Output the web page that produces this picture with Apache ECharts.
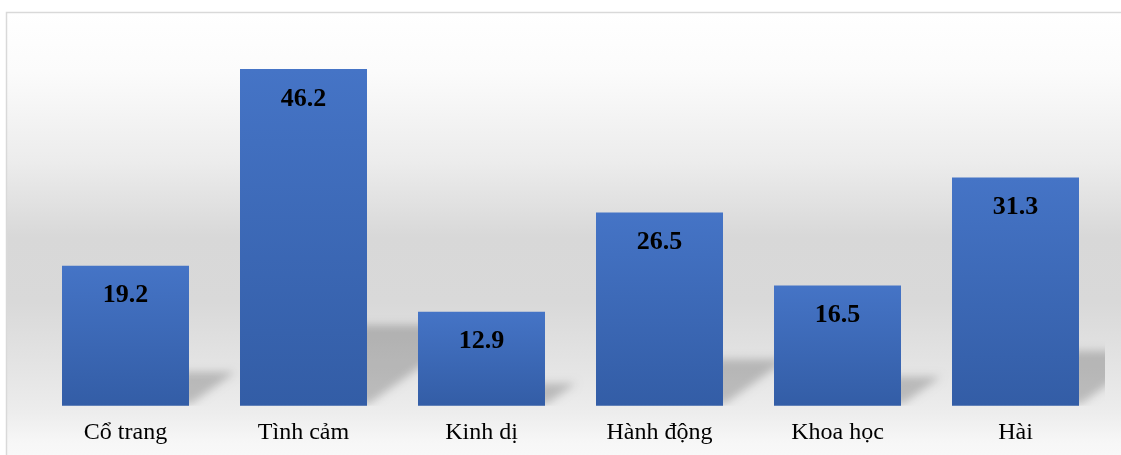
<!DOCTYPE html>
<html>
<head>
<meta charset="utf-8">
<script src="https://cdn.jsdelivr.net/npm/echarts@6/dist/echarts.min.js"></script>
<style>
html,body{margin:0;padding:0;background:#fff;}
#c{width:1121px;height:455px;}
</style>
</head>
<body>
<div id="c"></div>
<script>
const categories = ['Cổ trang', 'Tình cảm', 'Kinh dị', 'Hành động', 'Khoa học', 'Hài'];
const values = [19.2, 46.2, 12.9, 26.5, 16.5, 31.3];

const FONT = "'Liberation Serif', 'Times New Roman', serif";
const chart = echarts.init(document.getElementById('c'), null, {renderer: 'canvas'});
const OFF = 3000;

const option = {
  animation: false,
  graphic: [{
    type: 'rect',
    z: -10,
    silent: true,
    shape: {x: 6.5, y: 12.5, width: 1200, height: 500},
    style: {
      fill: new echarts.graphic.LinearGradient(0, 0, 0, 1, [
        {offset: 0, color: '#ffffff'},
        {offset: 0.12, color: '#fbfbfb'},
        {offset: 0.3, color: '#ececec'},
        {offset: 0.45, color: '#d8d8d8'},
        {offset: 0.58, color: '#d9d9d9'},
        {offset: 0.72, color: '#e5e5e5'},
        {offset: 0.8, color: '#ededed'},
        {offset: 0.86, color: '#f7f7f7'},
        {offset: 1, color: '#fefefe'}
      ]),
      stroke: '#d9d9d9',
      lineWidth: 1.5
    }
  }],
  grid: {left: 36.5, right: 16.5, top: 41.3, bottom: 49.3, containLabel: false},
  xAxis: {
    type: 'category',
    data: categories,
    axisLine: {show: false},
    axisTick: {show: false},
    axisLabel: {
      color: '#000',
      fontFamily: FONT,
      fontSize: 24,
      lineHeight: 24,
      margin: 15
    }
  },
  yAxis: {
    type: 'value',
    min: 0,
    max: 50,
    axisLine: {show: false},
    axisTick: {show: false},
    axisLabel: {show: false},
    splitLine: {show: false}
  },
  series: [
    {
      type: 'custom',
      z: 1,
      clip: true,
      silent: true,
      data: values.map((v, i) => [i, v]),
      renderItem: function (params, api) {
        const i = api.value(0), v = api.value(1);
        const top = api.coord([i, v]);
        const base = api.coord([i, 0]);
        const bw = 127;
        const right = top[0] + bw / 2 - OFF;
        const h = base[1] - top[1];
        const sh = h * 0.24;
        const sw = h * 0.33;
        return {
          type: 'polygon',
          shape: {points: [
            [right - 8, base[1] - 2],
            [right - 8, base[1] - sh],
            [right + sw, base[1] - sh],
            [right + 2, base[1] - 2]
          ]},
          style: {
            fill: '#000',
            shadowBlur: 9,
            shadowOffsetX: OFF,
            shadowColor: 'rgba(0,0,0,0.2)'
          }
        };
      }
    },
    {
      type: 'bar',
      z: 3,
      data: values,
      barWidth: 127,
      itemStyle: {
        color: new echarts.graphic.LinearGradient(0, 0, 0, 1, [
          {offset: 0, color: '#4574c6'},
          {offset: 1, color: '#335da6'}
        ])
      },
      label: {
        show: true,
        position: 'insideTop',
        distance: 17,
        color: '#000',
        fontFamily: FONT,
        fontWeight: 'bold',
        fontSize: 26,
        lineHeight: 26,
        formatter: p => p.value.toFixed(1)
      }
    }
  ]
};
chart.setOption(option);
</script>
</body>
</html>
